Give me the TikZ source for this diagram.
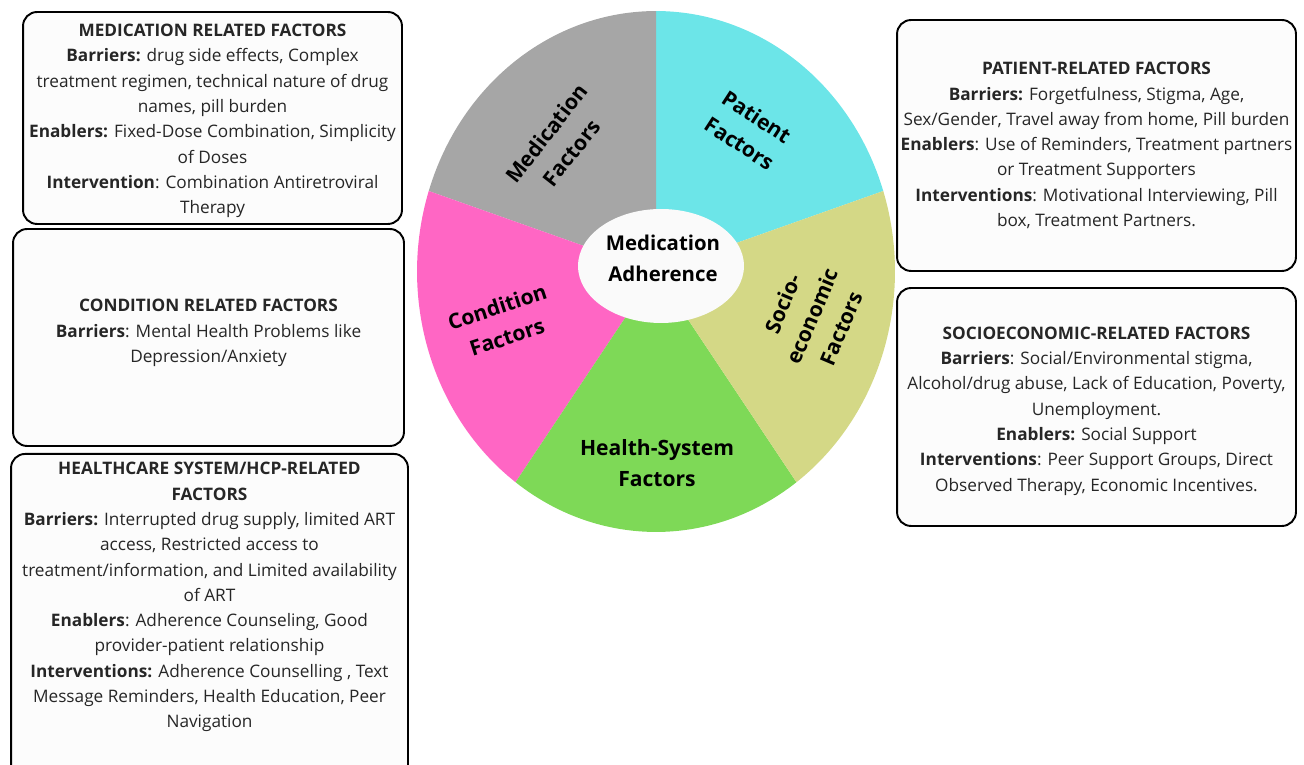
\documentclass[tikz,border=0pt]{standalone}
\usepackage{fontspec}
\setmainfont{Open Sans}
\usetikzlibrary{positioning,shapes.geometric}
\definecolor{medGray}{HTML}{A6A6A6}
\definecolor{patientCyan}{HTML}{6CE5E8}
\definecolor{socioOlive}{HTML}{D4D886}
\definecolor{healthGreen}{HTML}{7ED957}
\definecolor{condPink}{HTML}{FF66C4}
\definecolor{hubWhite}{HTML}{FAFAFA}
\definecolor{boxFill}{HTML}{FCFCFC}
\definecolor{bodyText}{HTML}{262626}
\tikzset{%
  % Specifications for style of nodes:
     boxText/.style = {align=center, inner sep=0pt, text=bodyText,
                       font=\fontsize{9.8}{14.4}\selectfont},
        base/.style = {boxText, rectangle, rounded corners=0.28cm,
                       draw=black, line width=1.1pt, fill=boxFill},
  sliceLabel/.style = {align=center, text=black, inner sep=0pt,
                       font=\fontsize{12}{18}\selectfont\bfseries},
}

\begin{document}
\begin{tikzpicture}[x=0.02cm, y=0.02cm]
  \useasboundingbox (0,0) rectangle (1304,764);
  % Pie of the five factor groups
  \coordinate (pie) at (656,492.5);
  \foreach \a/\col in {18/patientCyan, 90/medGray, 162/condPink,
                       234/healthGreen, 306/socioOlive}
    \fill[\col] (pie) -- ++(\a:4.78cm and 5.21cm)
      arc[start angle=\a, delta angle=72, x radius=4.78cm, y radius=5.21cm]
      -- cycle;
  \node (hub) [ellipse, fill=hubWhite, minimum width=3.32cm,
               minimum height=2.28cm, inner sep=0pt] at (661,498) {};
  \node (hubLabel) [sliceLabel, font=\fontsize{11.6}{17.6}\selectfont\bfseries]
               at (663,506) {Medication\\Adherence};
  % Labels of the slices
  \node (medLabel)  [sliceLabel, rotate=52]  at (559,621) {Medication\\Factors};
  \node (patLabel)  [sliceLabel, rotate=-33] at (748,634) {Patient\\Factors};
  \node (socLabel)  [sliceLabel, rotate=67]  at (812,448) {Socio-\\economic\\Factors};
  \node (conLabel)  [sliceLabel, rotate=18]  at (502,442) {Condition\\Factors};
  \node (hsLabel)   [sliceLabel]             at (657,301) {Health-System\\Factors};

  % Boxes on the left
  \node (medBox) [base, minimum width=7.58cm, minimum height=4.24cm]
    at (212.5,646) {};
  \node (medText) [boxText] at (212.5,643)
    {\textbf{MEDICATION RELATED FACTORS}\\
     \textbf{Barriers:} drug side effects, Complex\\
     treatment regimen, technical nature of drug\\
     names, pill burden\\
     \textbf{Enablers:} Fixed-Dose Combination, Simplicity\\
     of Doses\\
     \textbf{Intervention}: Combination Antiretroviral\\
     Therapy};
  \node (condBox) [base, minimum width=7.82cm, minimum height=4.34cm]
    at (208.5,426.5) {};
  \node (condText) [boxText] at (208.5,431)
    {\textbf{CONDITION RELATED FACTORS}\\
     \textbf{Barriers}: Mental Health Problems like\\
     Depression/Anxiety};
  \node (hcpBox) [base, minimum width=7.94cm, minimum height=6.74cm,
                  anchor=north] at (209.5,311) {};
  \node (hcpText) [boxText, below=0.18cm of hcpBox.north]
    {\textbf{HEALTHCARE SYSTEM/HCP-RELATED}\\
     \textbf{FACTORS}\\
     \textbf{Barriers:} Interrupted drug supply, limited ART\\
     access, Restricted access to\\
     treatment/information, and Limited availability\\
     of ART\\
     \textbf{Enablers}: Adherence Counseling, Good\\
     provider-patient relationship\\
     \textbf{Interventions:} Adherence Counselling , Text\\
     Message Reminders, Health Education, Peer\\
     Navigation};

  % Boxes on the right
  \node (patBox) [base, minimum width=7.98cm, minimum height=5.02cm]
    at (1096.5,618.5)
    {\textbf{PATIENT-RELATED FACTORS}\\
     \textbf{Barriers:} Forgetfulness, Stigma, Age,\\
     Sex/Gender, Travel away from home, Pill burden\\
     \textbf{Enablers}: Use of Reminders, Treatment partners\\
     or Treatment Supporters\\
     \textbf{Interventions}: Motivational Interviewing, Pill\\
     box, Treatment Partners.};
  \node (socBox) [base, minimum width=7.98cm, minimum height=4.76cm]
    at (1096.5,357) {};
  \node (socText) [boxText] at (1096.5,353)
    {\textbf{SOCIOECONOMIC-RELATED FACTORS}\\
     \textbf{Barriers}: Social/Environmental stigma,\\
     Alcohol/drug abuse, Lack of Education, Poverty,\\
     Unemployment.\\
     \textbf{Enablers:} Social Support\\
     \textbf{Interventions}: Peer Support Groups, Direct\\
     Observed Therapy, Economic Incentives.};
\end{tikzpicture}
\end{document}
